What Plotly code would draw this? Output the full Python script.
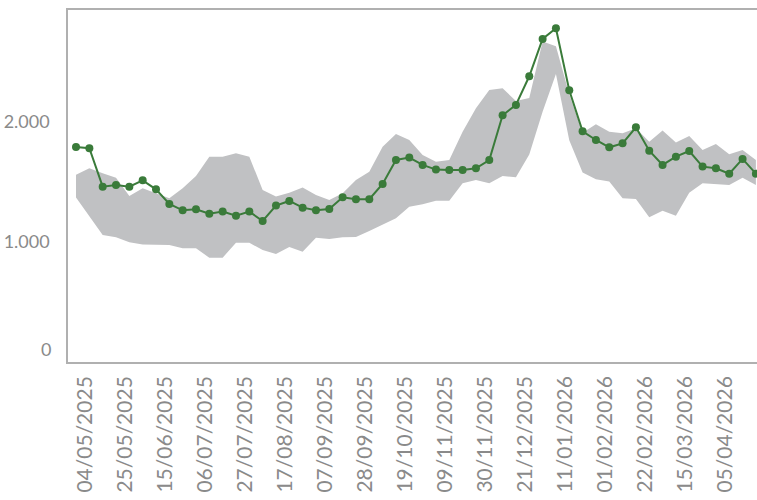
import pandas as pd
import plotly.graph_objects as go

dates = pd.date_range("2025-05-04", periods=52, freq="7D")

values = [1792, 1781, 1461, 1475, 1461, 1514, 1439, 1317, 1264, 1272,
          1236, 1253, 1219, 1253, 1175, 1303, 1342, 1286, 1264, 1275,
          1372, 1356, 1356, 1483, 1683, 1703, 1642, 1603, 1600, 1600,
          1614, 1683, 2056, 2142, 2381, 2692, 2781, 2264, 1922, 1850,
          1789, 1822, 1956, 1761, 1642, 1711, 1758, 1628, 1614, 1569,
          1692, 1569]

band_upper = [1560, 1614, 1572, 1536, 1383, 1447, 1406, 1364, 1447, 1550,
              1711, 1711, 1739, 1711, 1433, 1378, 1411, 1453, 1392, 1350,
              1406, 1517, 1586, 1794, 1900, 1850, 1725, 1669, 1683, 1919,
              2114, 2267, 2281, 2175, 2200, 2670, 2630, 2230, 1910, 1981,
              1919, 1906, 1947, 1836, 1928, 1828, 1883, 1767, 1817, 1731,
              1767, 1683]

band_lower = [1370, 1215, 1058, 1039, 997, 980, 980, 975, 947, 947,
              869, 869, 994, 994, 933, 900, 958, 919, 1036, 1025,
              1039, 1042, 1092, 1142, 1197, 1294, 1314, 1344, 1344, 1489,
              1517, 1489, 1550, 1540, 1730, 2085, 2400, 1847, 1578, 1522,
              1503, 1364, 1358, 1206, 1261, 1219, 1411, 1489, 1481, 1475,
              1536, 1475]

tick_dates = pd.date_range("2025-05-04", periods=17, freq="21D")
tick_labels = [d.strftime("%d/%m/%Y") for d in tick_dates]
y_ticks = [1000, 2000]
y_tick_labels = ["1.000", "2.000"]

GREEN = "#3a7b3a"
BAND = "#c0c1c3"
TEXT = "#8a8a8a"
FRAME = "#b0b0b0"
FONT = "Lato, 'Open Sans', sans-serif"

fig = go.Figure()
fig.add_trace(go.Scatter(x=dates, y=band_lower, mode="lines",
                         line=dict(width=0, color=BAND), hoverinfo="skip",
                         showlegend=False))
fig.add_trace(go.Scatter(x=dates, y=band_upper, mode="lines", fill="tonexty",
                         fillcolor=BAND, line=dict(width=0, color=BAND),
                         hoverinfo="skip", showlegend=False))
fig.add_trace(go.Scatter(x=dates, y=values, mode="lines+markers",
                         line=dict(color=GREEN, width=2),
                         marker=dict(color=GREEN, size=8),
                         showlegend=False))

fig.update_layout(
    width=757, height=500,
    margin=dict(l=68, r=0, t=10, b=138),
    paper_bgcolor="white", plot_bgcolor="white",
    font=dict(family=FONT, color=TEXT, size=18),
    xaxis=dict(
        range=["2025-04-29 19:00", "2026-04-26 14:00"],
        tickvals=list(tick_dates), ticktext=tick_labels,
        tickangle=-90, showgrid=False, zeroline=False,
        showline=True, linecolor=FRAME, linewidth=1.5, mirror=True,
        ticks="", automargin=False, ticklabelstandoff=4, ticklabelshift=9,
        tickfont=dict(size=21, color=TEXT, family=FONT),
    ),
    yaxis=dict(
        range=[0, 2933], tickvals=y_ticks, ticktext=y_tick_labels,
        showgrid=False, zeroline=False, automargin=False,
        showline=True, linecolor=FRAME, linewidth=1.5,
        ticks="", ticklabelstandoff=13,
        tickfont=dict(size=18, color=TEXT, family=FONT),
    ),
    annotations=[dict(text="0", x=0, xref="paper", xanchor="right", xshift=-15,
                      y=0, yref="y", yanchor="middle", yshift=13, showarrow=False,
                      font=dict(size=18, color=TEXT, family=FONT))],
)

fig.write_html(
    "out.html",
    config={"displayModeBar": False},
    post_script="document.body.style.margin='0';document.body.style.overflow='hidden';",
)
